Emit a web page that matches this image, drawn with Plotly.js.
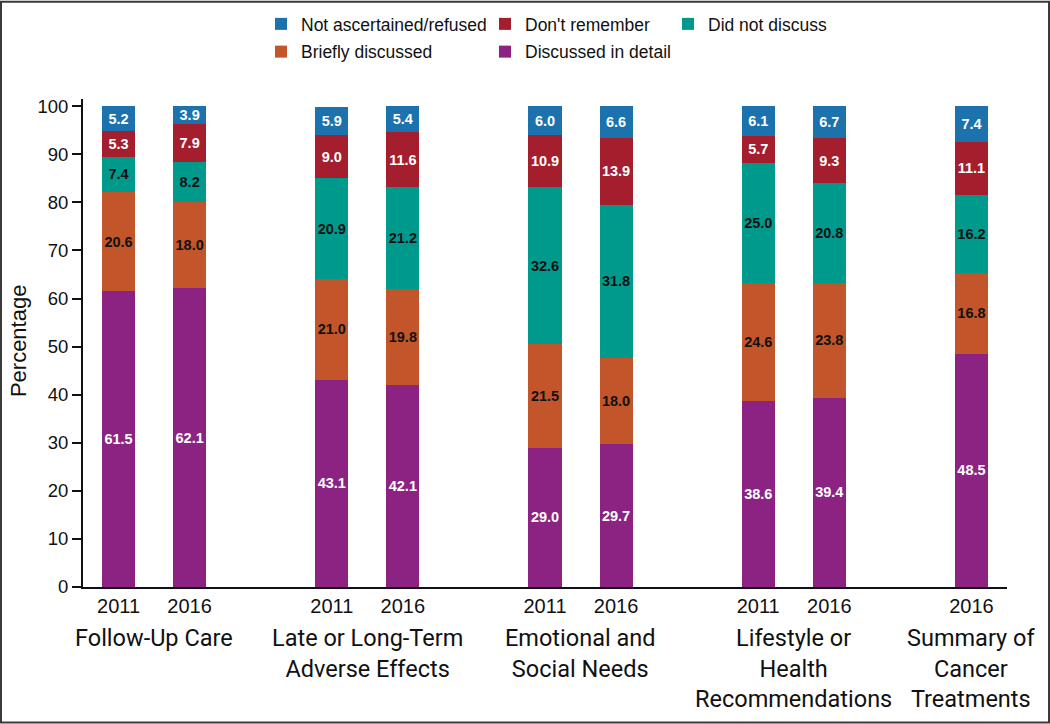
<!DOCTYPE html>
<html>
<head>
<meta charset="utf-8">
<script src="https://cdn.plot.ly/plotly-3.0.1.min.js"></script>
<style>html,body{margin:0;padding:0;background:#fff;}#chart{width:1050px;height:724px;}</style>
</head>
<body>
<div id="chart"></div>
<script>
// ---- data ----
var groups = ['Follow-Up Care', 'Late or Long-Term<br>Adverse Effects', 'Emotional and<br>Social Needs', 'Lifestyle or<br>Health<br>Recommendations', 'Summary of<br>Cancer<br>Treatments'];
var barGroup = [0, 0, 1, 1, 2, 2, 3, 3, 4];
var years = ['2011', '2016', '2011', '2016', '2011', '2016', '2011', '2016', '2016'];
var discussedInDetail = [61.5, 62.1, 43.1, 42.1, 29.0, 29.7, 38.6, 39.4, 48.5];
var brieflyDiscussed = [20.6, 18.0, 21.0, 19.8, 21.5, 18.0, 24.6, 23.8, 16.8];
var didNotDiscuss = [7.4, 8.2, 20.9, 21.2, 32.6, 31.8, 25.0, 20.8, 16.2];
var dontRemember = [5.3, 7.9, 9.0, 11.6, 10.9, 13.9, 5.7, 9.3, 11.1];
var notAscertained = [5.2, 3.9, 5.9, 5.4, 6.0, 6.6, 6.1, 6.7, 7.4];
var yTitle = 'Percentage';

// ---- positions computed from group membership ----
var xPos = [];
var seen = {};
for (var i = 0; i < barGroup.length; i++) {
  var g = barGroup[i];
  seen[g] = (seen[g] === undefined) ? 0 : seen[g] + 1;
  xPos.push(g * 3 + seen[g]);
}
var groupCenters = groups.map(function (_, g) {
  var xs = xPos.filter(function (_, i) { return barGroup[i] === g; });
  return xs.reduce(function (a, b) { return a + b; }, 0) / xs.length;
});

var W = 1050, H = 724;
var ML = 83, MR = 43, MT = 98.5, MB = 136.7;
var pw = W - ML - MR, ph = H - MT - MB;

var baseFont = 'Liberation Sans, Arial, Helvetica, sans-serif';

function mk(name, vals, color, txtColor, legend, rank) {
  return {
    type: 'bar', name: name, x: xPos, y: vals,
    width: 0.465,
    marker: {color: color, line: {width: 0}},
    text: vals.map(function (v) { return v.toFixed(1); }),
    textposition: 'inside', insidetextanchor: 'middle', textangle: 0,
    constraintext: 'none',
    textfont: {family: baseFont, size: 14.5, color: txtColor, weight: 'bold'},
    hoverinfo: 'skip',
    legend: legend, legendgroup: name, legendrank: rank
  };
}

var traces = [
  mk('Discussed in detail', discussedInDetail, '#8c2383', '#ffffff', 'legend2', 2),
  mk('Briefly discussed', brieflyDiscussed, '#c2562a', '#111111', 'legend', 2),
  mk('Did not discuss', didNotDiscuss, '#009a8c', '#111111', 'legend3', 1),
  mk("Don't remember", dontRemember, '#a51e2e', '#ffffff', 'legend2', 1),
  mk('Not ascertained/refused', notAscertained, '#1b72ac', '#ffffff', 'legend', 1)
];

function leg(xpx) {
  return {
    x: xpx / W, y: 1 - 6 / H, xref: 'container', yref: 'container',
    xanchor: 'left', yanchor: 'top', orientation: 'v', traceorder: 'grouped',
    tracegroupgap: 2,
    font: {family: baseFont, size: 17.5, color: '#111'},
    bgcolor: 'rgba(0,0,0,0)', borderwidth: 0, itemclick: false, itemdoubleclick: false
  };
}

var annotations = groups.map(function (gname, g) {
  return {
    x: groupCenters[g], xref: 'x', y: -(622 - (MT + ph)) / ph, yref: 'paper',
    yanchor: 'top', xanchor: 'center', showarrow: false, align: 'center',
    text: gname, font: {family: 'Roboto, Liberation Sans, sans-serif', size: 23.5, color: '#111'}
  };
});
annotations.push({
  x: (18 - ML) / pw, xref: 'paper', y: (MT + ph - 341) / ph, yref: 'paper',
  xanchor: 'center', yanchor: 'middle', showarrow: false, textangle: -90,
  text: yTitle, font: {family: baseFont, size: 22, color: '#111'}
});

var layout = {
  width: W, height: H,
  margin: {l: ML, r: MR, t: MT, b: MB, pad: 0, autoexpand: false},
  paper_bgcolor: '#fff', plot_bgcolor: '#fff',
  barmode: 'stack',
  bargap: 0,
  showlegend: true,
  legend: leg(261), legend2: leg(485), legend3: leg(668),
  xaxis: {
    range: [-0.5, 12.5], tickvals: xPos, ticktext: years,
    showline: true, linewidth: 2, linecolor: '#111', ticks: '',
    showgrid: false, zeroline: false, automargin: false,
    tickfont: {family: baseFont, size: 20, color: '#111'}
  },
  yaxis: {
    range: [0, 101.5], tickmode: 'linear', tick0: 0, dtick: 10,
    showline: true, linewidth: 2, linecolor: '#111',
    ticks: 'outside', ticklen: 9, tickwidth: 2, tickcolor: '#111',
    showgrid: false, zeroline: false, automargin: false,
    tickfont: {family: baseFont, size: 18.5, color: '#111'}
  },
  annotations: annotations,
  shapes: [{
    type: 'rect', xref: 'paper', yref: 'paper',
    x0: (-ML + 1) / pw, x1: 1 + (MR - 1) / pw,
    y0: -(MB - 1) / ph, y1: 1 + (MT - 1) / ph,
    line: {color: '#3a3a3a', width: 2}, fillcolor: 'rgba(0,0,0,0)', layer: 'above'
  }]
};

Plotly.newPlot('chart', traces, layout, {displayModeBar: false, staticPlot: true});
</script>
</body>
</html>
